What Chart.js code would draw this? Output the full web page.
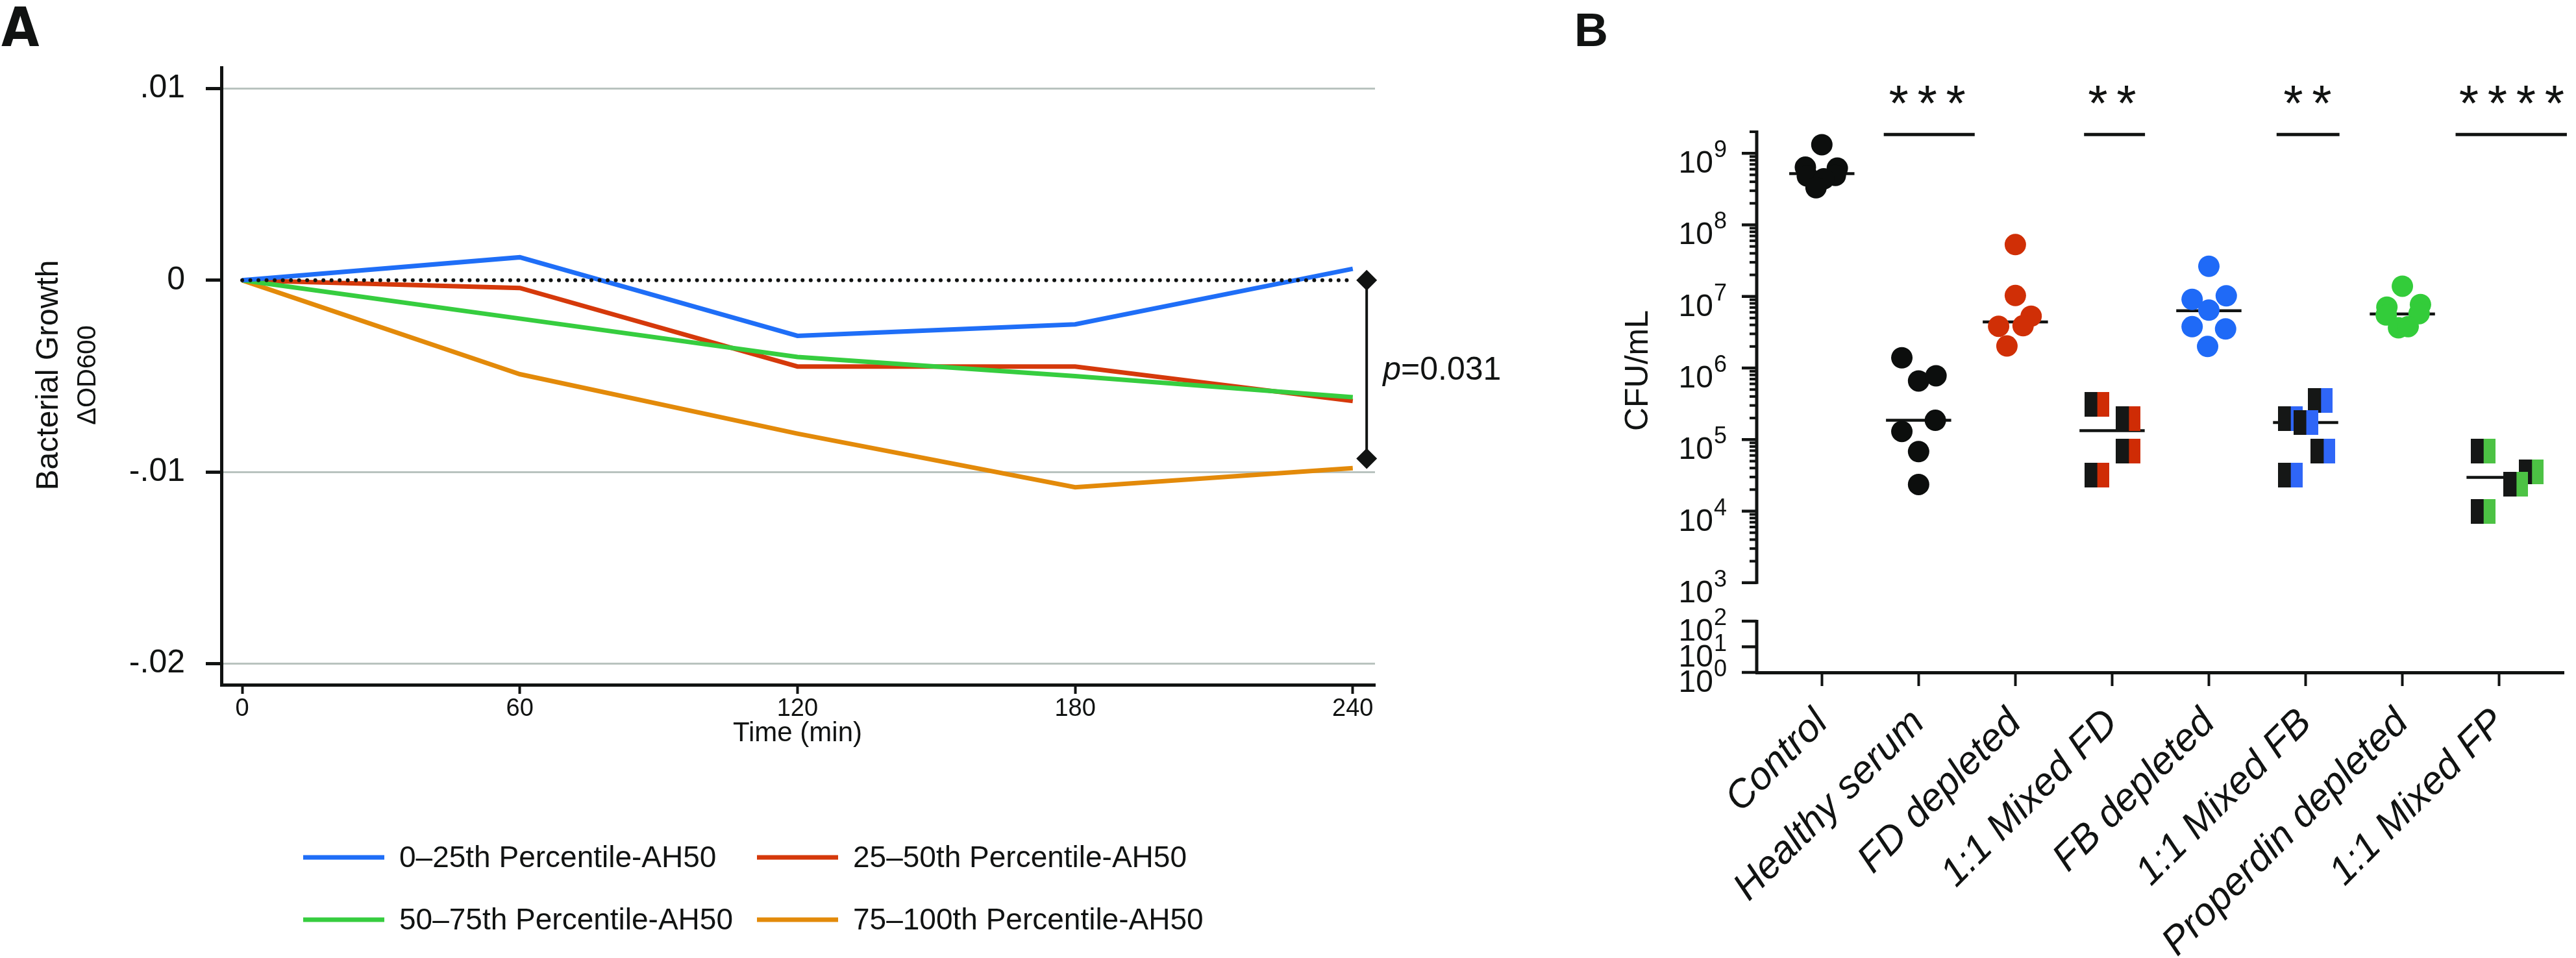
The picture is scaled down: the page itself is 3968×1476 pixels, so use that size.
<!DOCTYPE html>
<html>
<head>
<meta charset="utf-8">
<script src="https://cdn.jsdelivr.net/npm/chart.js@4.4.1/dist/chart.umd.min.js"></script>
<style>
  html, body { margin: 0; padding: 0; background: #fff; }
  #wrap { position: relative; width: 3968px; height: 1476px; background: #fff; }
  #chartA { position: absolute; left: 0; top: 0; width: 2410px; height: 1476px; }
  #chartB { position: absolute; left: 2410px; top: 0; width: 1558px; height: 1476px; }
</style>
</head>
<body>
<div id="wrap">
  <canvas id="chartA" width="2410" height="1476"></canvas>
  <canvas id="chartB" width="1558" height="1476"></canvas>
</div>
<script>
// ---- panel A data ----
const timePoints = [0, 60, 120, 180, 240];
const pct0to25 = [0, 0.0012, -0.0029, -0.0023, 0.0006];
const pct25to50 = [0, -0.0004, -0.0045, -0.0045, -0.0063];
const pct50to75 = [0, -0.0020, -0.0040, -0.0050, -0.0061];
const pct75to100 = [0, -0.0049, -0.0080, -0.0108, -0.0098];
const seriesLabels = ['0–25th Percentile-AH50', '25–50th Percentile-AH50', '50–75th Percentile-AH50', '75–100th Percentile-AH50'];
const yTicksA = [-0.02, -0.01, 0, 0.01];
const bracketRange = [0, -0.0093];
const pText = '0.031';

// ---- panel B data (CFU/mL) ----
const groups = ['Control', 'Healthy serum', 'FD depleted', '1:1 Mixed FD', 'FB depleted', '1:1 Mixed FB', 'Properdin depleted', '1:1 Mixed FP'];
const control = [1.32e9, 6.4e8, 4.8e8, 6.2e8, 4.9e8, 4.4e8, 3.3e8];
const healthySerum = [1.39e6, 6.6e5, 7.8e5, 1.86e5, 1.30e5, 6.8e4, 2.36e4];
const fdDepleted = [5.3e7, 1.03e7, 5.3e6, 3.83e6, 3.9e6, 2.03e6];
const mixedFD = [3.13e5, 1.98e5, 6.9e4, 3.19e4];
const fbDepleted = [2.64e7, 9.1e6, 1.02e7, 6.44e6, 3.78e6, 3.52e6, 2.0e6];
const mixedFB = [3.52e5, 1.96e5, 1.73e5, 6.9e4, 3.19e4];
const properdinDepleted = [1.39e7, 7.1e6, 7.7e6, 5.5e6, 5.76e6, 3.64e6, 3.79e6];
const mixedFP = [6.9e4, 3.54e4, 2.4e4, 1.0e4];
const medians = [5.2e8, 1.86e5, 4.4e6, 1.33e5, 6.3e6, 1.73e5, 5.7e6, 2.97e4];
const sigLabels = ['***', '**', '**', '****'];
const sigFrom = [0.64, 2.71, 4.70, 6.55];
const sigTo = [1.58, 3.34, 5.35, 7.70];
const sigCenter = [1.09, 3.0, 5.02, 7.13];

// horizontal spread of the dots inside each column (category units)
const spread = [
  [0, -0.17, -0.15, 0.16, 0.14, 0.02, -0.06],
  [-0.173, 0, 0.18, 0.173, -0.173, 0, 0],
  [0, 0, 0.163, -0.173, 0.08, -0.087],
  [-0.16, 0.167, 0.167, -0.16],
  [0, -0.173, 0.18, 0, -0.173, 0.173, -0.013],
  [0.153, -0.16, 0, 0.18, -0.16],
  [0, -0.16, 0.187, -0.167, 0.173, -0.04, 0.06],
  [-0.167, 0.333, 0.173, -0.167]
];

const FONT = "'Liberation Sans', Arial, Helvetica, sans-serif";
const NARROW = "'Liberation Sans Narrow', 'Arial Narrow', 'DejaVu Sans Condensed', sans-serif";
const ink = '#111312';
Chart.defaults.font.family = FONT;
Chart.defaults.color = ink;

const lineColors = ['#1f6ef7', '#d5390b', '#36cd3f', '#e38a0a'];

// ---------------- panel A ----------------
const seriesA = [pct0to25, pct25to50, pct50to75, pct75to100];
const toPts = arr => timePoints.map((t, i) => ({ x: t, y: arr[i] }));

const decorA = {
  id: 'decorA',
  afterDraw(chart) {
    const ctx = chart.ctx;
    const xs = chart.scales.x, ys = chart.scales.y;
    ctx.save();
    ctx.fillStyle = ink;
    // panel letter
    ctx.font = 'bold 84px ' + NARROW;
    ctx.textAlign = 'left';
    ctx.textBaseline = 'alphabetic';
    ctx.fillText('A', 2, 71);

    // y title
    ctx.save();
    ctx.translate(89, 578);
    ctx.rotate(-Math.PI / 2);
    ctx.textAlign = 'center';
    ctx.font = '48px ' + FONT;
    ctx.fillText('Bacterial Growth', 0, 0);
    ctx.restore();
    ctx.save();
    ctx.translate(147, 578);
    ctx.rotate(-Math.PI / 2);
    ctx.textAlign = 'center';
    ctx.font = '40px ' + FONT;
    ctx.fillText('ΔOD600', 0, 0);
    ctx.restore();

    // x title
    ctx.font = '42px ' + FONT;
    ctx.textAlign = 'center';
    ctx.textBaseline = 'middle';
    ctx.fillText('Time (min)', xs.getPixelForValue(120), 1130);

    // bracket
    const bx = xs.getPixelForValue(243);
    const by1 = ys.getPixelForValue(bracketRange[0]);
    const by2 = ys.getPixelForValue(bracketRange[1]);
    ctx.strokeStyle = ink;
    ctx.lineWidth = 4;
    ctx.beginPath();
    ctx.moveTo(bx, by1);
    ctx.lineTo(bx, by2);
    ctx.stroke();
    [by1, by2].forEach(py => {
      ctx.beginPath();
      ctx.moveTo(bx, py - 16);
      ctx.lineTo(bx + 16, py);
      ctx.lineTo(bx, py + 16);
      ctx.lineTo(bx - 16, py);
      ctx.closePath();
      ctx.fill();
    });
    ctx.textAlign = 'left';
    ctx.textBaseline = 'alphabetic';
    ctx.font = 'italic 50px ' + FONT;
    const px = bx + 25, py = 585;
    ctx.fillText('p', px, py);
    const pw = ctx.measureText('p').width;
    ctx.font = '50px ' + FONT;
    ctx.fillText('=' + pText, px + pw, py);

    // legend, two columns
    const colX = [467, 1166], rowY = [1321, 1417];
    seriesLabels.forEach((lab, i) => {
      const lx = colX[i % 2], ly = rowY[Math.floor(i / 2)];
      ctx.strokeStyle = lineColors[i];
      ctx.lineWidth = 7;
      ctx.beginPath();
      ctx.moveTo(lx, ly);
      ctx.lineTo(lx + 125, ly);
      ctx.stroke();
      ctx.fillStyle = ink;
      ctx.font = '46px ' + FONT;
      ctx.textBaseline = 'middle';
      ctx.fillText(lab, lx + 148, ly + 2);
    });
    ctx.restore();
  }
};

new Chart(document.getElementById('chartA'), {
  type: 'line',
  data: {
    datasets: [
      {
        label: 'zero',
        data: toPts([0, 0, 0, 0, 0]),
        borderColor: ink,
        borderWidth: 6,
        borderDash: [0.01, 12.5],
        borderCapStyle: 'round',
        pointRadius: 0,
        order: 0
      },
      ...seriesA.map((arr, i) => ({
        label: seriesLabels[i],
        data: toPts(arr),
        borderColor: lineColors[i],
        borderWidth: 7,
        pointRadius: 0,
        tension: 0,
        order: [1, 3, 2, 4][i]
      }))
    ]
  },
  options: {
    responsive: false,
    animation: false,
    events: [],
    layout: { padding: { left: 0, top: 104, right: 292, bottom: 0 } },
    plugins: { legend: { display: false }, tooltip: { enabled: false } },
    scales: {
      x: {
        type: 'linear',
        min: -4.5,
        max: 244.8,
        afterBuildTicks: s => { s.ticks = timePoints.map(v => ({ value: v })); },
        afterFit: s => { s.height = 421; },
        grid: { drawOnChartArea: false, tickLength: 14, tickWidth: 4, tickColor: ink },
        border: { display: true, color: ink, width: 5 },
        ticks: { font: { size: 38 }, color: ink, padding: 1, maxRotation: 0, callback: v => String(v) }
      },
      y: {
        type: 'linear',
        min: -0.0211,
        max: 0.0111,
        afterBuildTicks: s => { s.ticks = yTicksA.map(v => ({ value: v })); },
        afterFit: s => { s.width = 341; },
        grid: {
          color: c => (c.tick && Math.abs(c.tick.value) < 1e-9) ? 'rgba(0,0,0,0)' : '#b9c3bf',
          lineWidth: 3,
          tickColor: ink,
          tickLength: 24,
          tickWidth: 5
        },
        border: { display: true, color: ink, width: 5 },
        ticks: {
          padding: 32,
          font: { size: 50 },
          color: ink,
          callback: v => {
            if (Math.abs(v) < 1e-9) return '0';
            const s = Math.abs(v).toFixed(2).replace(/^0/, '');
            return (v < 0 ? '-' : '') + s;
          }
        }
      }
    }
  },
  plugins: [decorA]
});

// ---------------- panel B ----------------
const groupValues = [control, healthySerum, fdDepleted, mixedFD, fbDepleted, mixedFB, properdinDepleted, mixedFP];
const dotColors = ['#0c0e0d', '#0c0e0d', '#d02f06', null, '#1f6af7', null, '#33cc3a', null];
const squareColors = [null, null, null, '#cf2c05', null, '#2f66f7', null, '#4cc244'];

function halfSquare(color) {
  const c = document.createElement('canvas');
  c.width = 38; c.height = 38;
  const g = c.getContext('2d');
  g.fillStyle = color;
  g.fillRect(19, 0, 19, 38);
  g.fillStyle = '#151716';
  g.fillRect(0, 0, 20, 38);
  return c;
}

const medianSets = medians.map((m, i) => ({
  type: 'scatter',
  data: [{ x: i - 0.337, y: m }, { x: i + 0.337, y: m }],
  showLine: true,
  borderColor: ink,
  borderWidth: 4.5,
  pointRadius: 0,
  yAxisID: 'yU',
  order: 2
}));

const pointSets = groupValues.map((vals, i) => {
  const square = squareColors[i] !== null;
  return {
    type: 'scatter',
    label: groups[i],
    data: vals.map((v, k) => ({ x: i + spread[i][k], y: v })),
    pointStyle: square ? halfSquare(squareColors[i]) : 'circle',
    pointRadius: square ? 19 : 16.5,
    backgroundColor: square ? ink : dotColors[i],
    borderWidth: 0,
    yAxisID: 'yU',
    order: 1
  };
});

const upperTop = 2e9;

const decorB = {
  id: 'decorB',
  afterDraw(chart) {
    const ctx = chart.ctx;
    const xs = chart.scales.x, yU = chart.scales.yU, yL = chart.scales.yL;
    const ax = chart.chartArea.left;
    ctx.save();
    ctx.fillStyle = ink;
    ctx.strokeStyle = ink;

    ctx.font = 'bold 72px ' + FONT;
    ctx.textAlign = 'left';
    ctx.textBaseline = 'alphabetic';
    ctx.fillText('B', 15, 71);

    // broken y axis
    ctx.lineWidth = 5;
    ctx.beginPath();
    ctx.moveTo(ax, yU.getPixelForValue(upperTop) - 2);
    ctx.lineTo(ax, yU.getPixelForValue(1e3) + 2);
    ctx.moveTo(ax, yL.getPixelForValue(100) - 2);
    ctx.lineTo(ax, yL.getPixelForValue(1));
    ctx.stroke();

    const tick = (py, len, w) => {
      ctx.lineWidth = w;
      ctx.beginPath();
      ctx.moveTo(ax - len, py);
      ctx.lineTo(ax, py);
      ctx.stroke();
    };
    for (let e = 3; e < 9; e++) {
      for (let m = 2; m <= 9; m++) tick(yU.getPixelForValue(m * Math.pow(10, e)), 11, 4);
    }
    tick(yU.getPixelForValue(upperTop), 11, 4);

    const label = (py, e) => {
      ctx.textAlign = 'right';
      ctx.textBaseline = 'alphabetic';
      ctx.font = '36px ' + FONT;
      const sup = String(e);
      const sw = ctx.measureText(sup).width;
      ctx.fillText(sup, 250, py + 6);
      ctx.font = '48px ' + FONT;
      ctx.fillText('10', 250 - sw - 1, py + 30);
    };
    for (let e = 3; e <= 9; e++) {
      const py = yU.getPixelForValue(Math.pow(10, e));
      tick(py, 23, 4.5);
      label(py, e);
    }
    for (let e = 0; e <= 2; e++) {
      const py = yL.getPixelForValue(Math.pow(10, e));
      tick(py, 23, 4.5);
      label(py, e);
    }

    // y title
    ctx.save();
    ctx.translate(128, 571);
    ctx.rotate(-Math.PI / 2);
    ctx.textAlign = 'center';
    ctx.textBaseline = 'alphabetic';
    ctx.font = '50px ' + FONT;
    ctx.fillText('CFU/mL', 0, 0);
    ctx.restore();

    // significance bars and stars
    const sy = yU.getPixelForValue(1.83e9);
    const pitch = 44;
    ctx.font = '78px ' + FONT;
    ctx.textAlign = 'center';
    ctx.textBaseline = 'alphabetic';
    sigLabels.forEach((s, i) => {
      ctx.lineWidth = 5;
      ctx.beginPath();
      ctx.moveTo(xs.getPixelForValue(sigFrom[i]), sy);
      ctx.lineTo(xs.getPixelForValue(sigTo[i]), sy);
      ctx.stroke();
      const cx = xs.getPixelForValue(sigCenter[i]);
      const n = s.length;
      for (let k = 0; k < n; k++) {
        ctx.fillText('*', cx + (k - (n - 1) / 2) * pitch, 186);
      }
    });
    ctx.restore();
  }
};

new Chart(document.getElementById('chartB'), {
  type: 'scatter',
  data: { datasets: [...medianSets, ...pointSets] },
  options: {
    responsive: false,
    animation: false,
    events: [],
    layout: { padding: { left: 296, top: 203, right: 13, bottom: 0 } },
    plugins: { legend: { display: false }, tooltip: { enabled: false } },
    scales: {
      x: {
        type: 'linear',
        min: -0.673,
        max: 7.667,
        afterBuildTicks: s => { s.ticks = groups.map((g, i) => ({ value: i })); },
        afterFit: s => { s.height = 440; },
        grid: { drawOnChartArea: false, tickLength: 21, tickWidth: 4, tickColor: ink },
        border: { display: true, color: ink, width: 5 },
        ticks: {
          autoSkip: false,
          maxRotation: 45,
          minRotation: 45,
          padding: 22,
          color: ink,
          font: { size: 60, style: 'italic' },
          callback: (v, i) => groups[i]
        }
      },
      yU: { type: 'logarithmic', position: 'left', display: false, min: 55.8, max: upperTop },
      yL: { type: 'logarithmic', position: 'left', display: false, min: 1, max: 1.23e21 }
    }
  },
  plugins: [decorB]
});
</script>
</body>
</html>
